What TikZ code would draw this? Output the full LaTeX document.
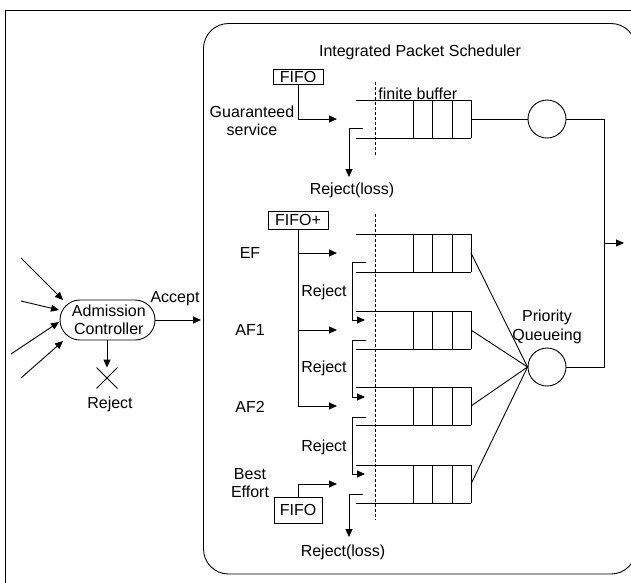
\documentclass[tikz,border=0pt]{standalone}
\usepackage{fontspec}
\setmainfont{Liberation Sans}
\usetikzlibrary{arrows.meta,shapes.misc}
\begin{document}
\begin{tikzpicture}[x=1pt,y=-1pt,line width=0.9pt,
  font=\fontsize{16}{18.5}\selectfont,
  arr/.style={-{Triangle[length=8pt,width=7pt]}},
  lbl/.style={inner sep=0pt,align=center},
  fifobox/.style={draw,inner sep=0pt,minimum width=#1},
  srv/.style={draw,circle,minimum size=38pt,inner sep=0pt},
  buf/.style={densely dashed,line width=0.8pt},
  pktqueue/.pic={
    \draw (0,0) -- (115,0) (0,38) -- (115,38);
    \draw (57,0) -- (57,38) (76,0) -- (76,38) (96,0) -- (96,38) (115,0) -- (115,38);
    \coordinate (-out) at (115,19);
  }]
\useasboundingbox (0,0) rectangle (631,582);
\clip (0,0) rectangle (631,582);

% outer frame and scheduler boundary
\draw (5.5,590) -- (5.5,10.5) -- (640,10.5);
\draw[rounded corners=25pt] (203.5,23.5) rectangle (636,574);
\node[lbl] (title) at (420,52) {Integrated Packet Scheduler};

% admission control
\node[draw,rounded rectangle,minimum width=95pt,minimum height=40pt,inner sep=0pt,align=center]
  (adm) at (107.5,320) {\,Admission\\\,Controller};
\coordinate (s1) at (21,258);  \coordinate (t1) at (63,300);
\coordinate (s2) at (21,301);  \coordinate (t2) at (59,310);
\coordinate (s3) at (11,354);  \coordinate (t3) at (59,322);
\coordinate (s4) at (21,378);  \coordinate (t4) at (63,341);
\draw[arr] (s1) -- (t1);
\draw[arr] (s2) -- (t2);
\draw[arr] (s3) -- (t3);
\draw[arr] (s4) -- (t4);
\node[cross out,draw,minimum size=20pt,inner sep=0pt] (rx) at (107,378) {};
\draw[arr] (adm.south -| rx) -- (rx.north);
\node[lbl] (rej0) at (110,404) {Reject};
\coordinate (acc) at (201,320);
\draw[arr] (adm.east) -- (acc);
\node[lbl] (acclbl) at (175,299) {Accept};

% guaranteed service branch
\node[fifobox=50pt,minimum height=15pt] (fG) at (298,76.5) {FIFO};
\node[lbl] (gs) at (252,121) {Guaranteed\\service};
\coordinate (gin) at (337,119);
\draw[arr] (fG.south) |- (gin);
\pic (qG) at (356,100) {pktqueue};
\draw[buf] (375,82) -- (375,155);
\node[lbl,anchor=west] (fb) at (378,94) {finite buffer};
\coordinate (gout) at (363,128);
\coordinate (gloss) at (349,177);
\draw[arr] (gout) -| (gloss);
\node[lbl] (rl1) at (352,190) {Reject(loss)};
\node[srv] (sG) at (547,119) {};
\draw (qG-out) -- (sG);

% priority classes
\node[fifobox=60pt,minimum height=18pt] (fP) at (298,220) {FIFO+};
\node[lbl] (ef) at (250,253) {EF};
\node[lbl] (af1) at (250,330) {AF1};
\node[lbl] (af2) at (250,407) {AF2};
\node[lbl] (be) at (250,483) {Best\\Effort};
\coordinate (efin) at (337,253);
\coordinate (af1in) at (337,330);
\coordinate (af2in) at (337,406);
\coordinate (bein) at (337,484);
\draw[arr] (fP.south) |- (af2in);
\draw[arr] (fP.south |- efin) -- (efin);
\draw[arr] (fP.south |- af1in) -- (af1in);
\node[fifobox=48pt,minimum height=26pt] (fB) at (298,510) {FIFO};
\draw[arr] (fB.north) |- (bein);

\pic (qEF) at (356,234) {pktqueue};
\pic (qA1) at (356,311) {pktqueue};
\pic (qA2) at (356,387) {pktqueue};
\pic (qBE) at (356,465) {pktqueue};
\draw[buf] (375,214) -- (375,520);

% rejected packets move down one class
\coordinate (efo) at (366,262);  \coordinate (a1i) at (365,320);
\coordinate (a1o) at (366,340);  \coordinate (a2i) at (365,397);
\coordinate (a2o) at (366,417);  \coordinate (bi) at (365,474);
\draw[arr] (efo) -- ++(-14,0) |- (a1i);
\draw[arr] (a1o) -- ++(-14,0) |- (a2i);
\draw[arr] (a2o) -- ++(-14,0) |- (bi);
\node[lbl] (r1) at (324,292) {Reject};
\node[lbl] (r2) at (324,368) {Reject};
\node[lbl] (r3) at (324,447) {Reject};
\coordinate (beo) at (363,494);
\coordinate (bloss) at (349,537);
\draw[arr] (beo) -| (bloss);
\node[lbl] (rl2) at (343,552) {Reject(loss)};

% priority queueing server and output
\node[srv] (sPQ) at (547,367) {};
\node[lbl] (pq) at (547,327) {Priority\\Queueing};
\draw (qEF-out) -- (sPQ.west);
\draw (qA1-out) -- (sPQ.west);
\draw (qA2-out) -- (sPQ.west);
\draw (qBE-out) -- (sPQ.west);
\coordinate (merge) at (604,243);
\coordinate (outp) at (624,243);
\draw (sG.east) -| (merge) |- (sPQ.east);
\draw[arr] (merge) -- (outp);
\end{tikzpicture}
\end{document}
